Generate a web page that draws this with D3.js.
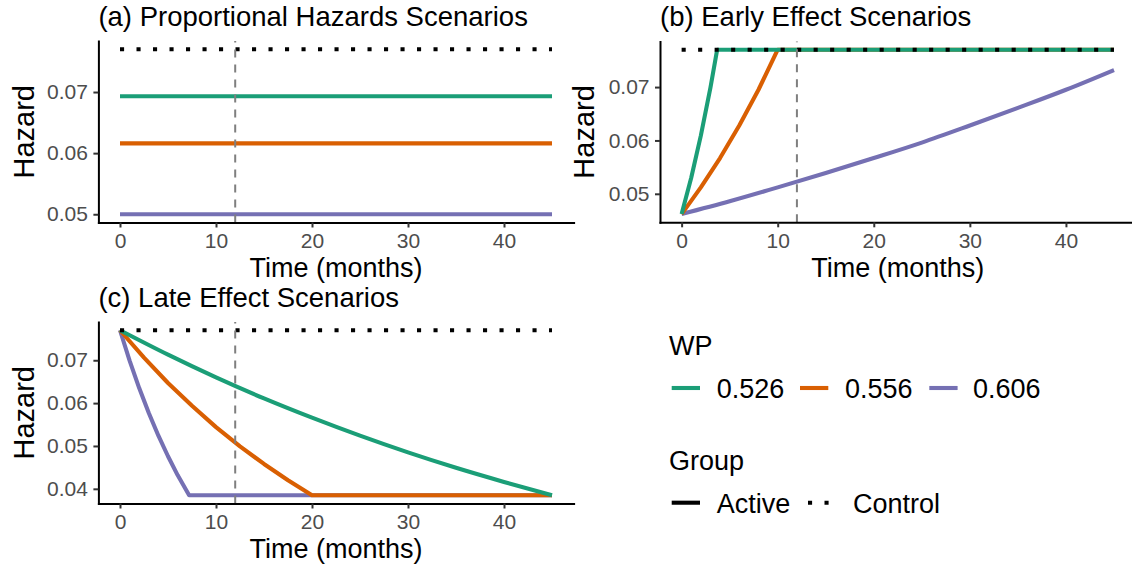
<!DOCTYPE html>
<html><head><meta charset="utf-8">
<script src="https://cdn.jsdelivr.net/npm/d3@7"></script>
<style>
body{margin:0;background:#fff}
svg{display:block}
text{font-family:"Liberation Sans",Arial,Helvetica,sans-serif}
</style>
</head><body>
<svg id="chart" width="1132" height="567"></svg>
<script>
// ---------- data ----------
const wpLevels = ["0.526", "0.556", "0.606"];
const wpColors = ["#1B9E77", "#D95F02", "#7570B3"];
const groupLevels = ["Active", "Control"];
const xTicks = [0, 10, 20, 30, 40];
const yTicksA = [0.05, 0.06, 0.07];
const yTicksB = [0.05, 0.06, 0.07];
const yTicksC = [0.04, 0.05, 0.06, 0.07];
const cutoffMonth = 12;
const timeRange = [0, 45];

const controlTime = [0, 45];
const controlHazard = [0.077, 0.077];

// (a) proportional hazards
const phTime = [0, 45];
const ph526 = [0.0693, 0.0693];
const ph556 = [0.0616, 0.0616];
const ph606 = [0.0500, 0.0500];

// (b) early effect
const earlyTime526 = [0, 1, 2, 3, 3.7, 45];
const early526 = [0.0462, 0.0530, 0.0609, 0.0699, 0.0770, 0.0770];
const earlyTime556 = [0, 2, 4, 6, 8, 10, 45];
const early556 = [0.0462, 0.0512, 0.0567, 0.0628, 0.0695, 0.0770, 0.0770];
const earlyTime606 = [0, 5, 10, 15, 20, 25, 30, 35, 40, 45];
const early606 = [0.0462, 0.0486, 0.0512, 0.0539, 0.0567, 0.0596, 0.0628, 0.0661, 0.0695, 0.0732];

// (c) late effect
const lateTime526 = [0, 5, 10, 15, 20, 25, 30, 35, 40, 45];
const late526 = [0.0770, 0.0713, 0.0660, 0.0611, 0.0566, 0.0524, 0.0485, 0.0449, 0.0416, 0.0385];
const lateTime556 = [0, 2.5, 5, 7.5, 10, 12.5, 15, 17.5, 20, 45];
const late556 = [0.0770, 0.0706, 0.0647, 0.0594, 0.0544, 0.0499, 0.0458, 0.0420, 0.0385, 0.0385];
const lateTime606 = [0, 1, 2, 3, 4, 5, 6, 7.2, 45];
const late606 = [0.0770, 0.0699, 0.0635, 0.0577, 0.0524, 0.0476, 0.0432, 0.0385, 0.0385];

// ---------- layout ----------
const svg = d3.select("#chart");
const FONT_BIG = 27, FONT_TICK = 21, FONT_YTITLE = 29;
const LW = 4.1;

const panels = [
  { title: "(a) Proportional Hazards Scenarios", left: 98.4, right: 573.6, top: 41, bottom: 222.5,
    yTicks: yTicksA, hazX: 33.5,
    series: [[phTime, ph526], [phTime, ph556], [phTime, ph606]], smooth: [false, false, false] },
  { title: "(b) Early Effect Scenarios", left: 660, right: 1135.6, top: 41.5, bottom: 222.3,
    yTicks: yTicksB, hazX: 593.5,
    series: [[earlyTime526, early526], [earlyTime556, early556], [earlyTime606, early606]],
    smooth: [false, false, true] },
  { title: "(c) Late Effect Scenarios", left: 98.4, right: 573.6, top: 322, bottom: 503.5,
    yTicks: yTicksC, hazX: 33.5,
    series: [[lateTime526, late526], [lateTime556, late556], [lateTime606, late606]],
    smooth: [true, false, false] }
];

panels.forEach(p => {
  const g = svg.append("g");
  const xPad = (timeRange[1] - timeRange[0]) * 0.05;
  const x = d3.scaleLinear([timeRange[0] - xPad, timeRange[1] + xPad], [p.left, p.right]);
  const allY = p.series.flatMap(s => s[1]).concat(controlHazard);
  const [ymin, ymax] = d3.extent(allY);
  const yPad = (ymax - ymin) * 0.05;
  const y = d3.scaleLinear([ymin - yPad, ymax + yPad], [p.bottom, p.top]);

  const line = d3.line().x(d => x(d[0])).y(d => y(d[1]));
  const smoothLine = d3.line().x(d => x(d[0])).y(d => y(d[1])).curve(d3.curveMonotoneX);

  // series (0.606 first, 0.526 last)
  [2, 1, 0].forEach(i => {
    const [ts, hs] = p.series[i];
    const gen = p.smooth[i] ? smoothLine : line;
    g.append("path")
      .attr("d", gen(ts.map((t, k) => [t, hs[k]])))
      .attr("fill", "none").attr("stroke", wpColors[i])
      .attr("stroke-width", LW).attr("stroke-linejoin", "round").attr("stroke-linecap", "butt");
  });
  // control
  g.append("path")
    .attr("d", line(controlTime.map((t, k) => [t, controlHazard[k]])))
    .attr("fill", "none").attr("stroke", "#000")
    .attr("stroke-width", LW).attr("stroke-dasharray", "4.1,12.4").attr("stroke-linecap", "butt");

  // cutoff line
  g.append("line")
    .attr("x1", x(cutoffMonth)).attr("x2", x(cutoffMonth))
    .attr("y1", p.bottom).attr("y2", p.top)
    .attr("stroke", "#7F7F7F").attr("stroke-width", 2).attr("stroke-dasharray", "8,7");

  // axes
  const xa = g.append("g").attr("transform", `translate(0,${p.bottom})`)
    .call(d3.axisBottom(x).tickValues(xTicks).tickSize(5).tickSizeOuter(0).tickPadding(5.8));
  const ya = g.append("g").attr("transform", `translate(${p.left},0)`)
    .call(d3.axisLeft(y).tickValues(p.yTicks).tickSize(5).tickSizeOuter(0).tickPadding(5.5)
      .tickFormat(d3.format(".2f")));
  [xa, ya].forEach(a => {
    a.select(".domain").attr("stroke", "#000").attr("stroke-width", 2).attr("stroke-linecap", "square");
    a.selectAll(".tick line").attr("stroke", "#333").attr("stroke-width", 2);
    a.selectAll(".tick text").attr("fill", "#4D4D4D").style("font-size", FONT_TICK + "px")
      .style("font-family", '"Liberation Sans",Arial,sans-serif');
  });

  // axis titles
  g.append("text")
    .attr("x", (p.left + p.right) / 2).attr("y", p.bottom + 54.2)
    .attr("text-anchor", "middle").style("font-size", FONT_BIG + "px").attr("fill", "#000")
    .text("Time (months)");
  g.append("text")
    .attr("transform", `translate(${p.hazX},${(p.top + p.bottom) / 2}) rotate(-90)`)
    .attr("text-anchor", "middle").style("font-size", FONT_YTITLE + "px").attr("fill", "#000")
    .text("Hazard");
  // panel title
  g.append("text")
    .attr("x", p.left).attr("y", p.top - 15.5)
    .style("font-size", "27.5px").attr("fill", "#000")
    .text(p.title);
});

// ---------- legend ----------
const lg = svg.append("g");
lg.append("text").attr("x", 669).attr("y", 355).style("font-size", FONT_BIG + "px").text("WP");
const wpKeyX = [671.7, 800, 929.3];
const wpLabX = [716.7, 845, 973];
wpLevels.forEach((lv, i) => {
  lg.append("line").attr("x1", wpKeyX[i]).attr("x2", wpKeyX[i] + 28.3)
    .attr("y1", 388).attr("y2", 388)
    .attr("stroke", wpColors[i]).attr("stroke-width", LW);
  lg.append("text").attr("x", wpLabX[i]).attr("y", 398)
    .style("font-size", FONT_BIG + "px").text(lv);
});
lg.append("text").attr("x", 669).attr("y", 469.5).style("font-size", FONT_BIG + "px").text("Group");
const grpKeyX = [671.7, 808];
const grpLabX = [716.7, 853];
groupLevels.forEach((lv, i) => {
  const l = lg.append("line").attr("x1", grpKeyX[i]).attr("x2", grpKeyX[i] + 28.3)
    .attr("y1", 502.7).attr("y2", 502.7)
    .attr("stroke", "#000").attr("stroke-width", LW);
  if (lv === "Control") l.attr("stroke-dasharray", "4.1,12.4");
  lg.append("text").attr("x", grpLabX[i]).attr("y", 513)
    .style("font-size", FONT_BIG + "px").text(lv);
});
</script>
</body></html>
